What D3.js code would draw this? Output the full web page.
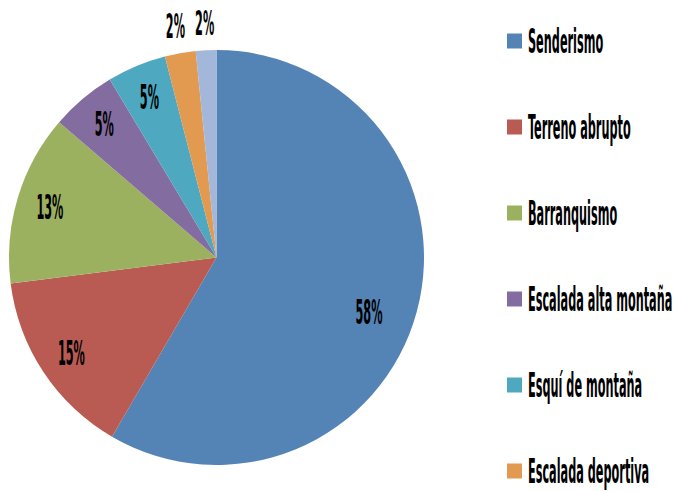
<!DOCTYPE html>
<html>
<head>
<meta charset="utf-8">
<script src="https://cdn.jsdelivr.net/npm/d3@7"></script>
<style>
  body { margin: 0; background: #fff; }
  svg { display: block; }
  text { font-family: "DejaVu Sans Condensed", "DejaVu Sans", sans-serif; font-weight: bold; fill: #000; }
</style>
</head>
<body>
<div id="chart"></div>
<script>
var categories = ["Senderismo", "Terreno abrupto", "Barranquismo", "Escalada alta montaña",
                  "Esquí de montaña", "Escalada deportiva", "Otros"];
var values = [58.4, 14.6, 13.3, 5.1, 4.6, 2.4, 1.6];
var colours = ["#5484B6", "#B95B53", "#9CB160", "#836C9F", "#4EA8C0", "#E29A50", "#A2B7DA"];

var width = 678,
  height = 491,
  cx = 216.5,
  cy = 257.5,
  radius = 207.5,
  squeeze = 0.38; // narrow glyphs, the original font is very condensed

var data = categories.map(function(c, i) {
  return { name: c, value: values[i], colour: colours[i] };
});

var svg = d3.select("#chart").append("svg")
  .attr("width", width)
  .attr("height", height);

var pie = d3.pie()
  .sort(null)
  .value(function(d) { return d.value; });

var arcs = pie(data);
var total = d3.sum(values);

var arc = d3.arc().innerRadius(0).outerRadius(radius);
var insideLabel = d3.arc().innerRadius(174).outerRadius(174);
var outsideLabel = d3.arc().innerRadius(235).outerRadius(235);

var g = svg.append("g")
  .attr("transform", "translate(" + cx + "," + cy + ")");

g.selectAll("path.slice")
  .data(arcs)
  .enter().append("path")
  .attr("class", "slice")
  .attr("d", arc)
  .style("fill", function(d) { return d.data.colour; });

g.selectAll("text.pct")
  .data(arcs)
  .enter().append("text")
  .attr("class", "pct")
  .attr("transform", function(d) {
    var share = d.data.value / total;
    var p;
    if (share < 0.03) {
      p = outsideLabel.centroid(d);
    } else if (share > 0.5) {
      var a = (d.startAngle + d.endAngle) / 2 + 0.08;
      p = [Math.sin(a) * 162, -Math.cos(a) * 162];
    } else {
      p = insideLabel.centroid(d);
    }
    return "translate(" + p[0] + "," + p[1] + ") scale(" + squeeze + ",1)";
  })
  .attr("dy", "0.36em")
  .style("font-size", "33px")
  .style("text-anchor", "middle")
  .text(function(d) { return Math.round(d.data.value) + "%"; });

var legendY = d3.scalePoint()
  .domain(categories)
  .range([41, 41 + 86 * (categories.length - 1)]);

// the last entry falls below the picture, as in the original
var legend = svg.selectAll("g.legend")
  .data(data.filter(function(d) { return legendY(d.name) < height; }))
  .enter().append("g")
  .attr("class", "legend")
  .attr("transform", function(d) { return "translate(507," + legendY(d.name) + ")"; });

legend.append("rect")
  .attr("x", 0)
  .attr("y", -7.5)
  .attr("width", 15)
  .attr("height", 15)
  .style("fill", function(d) { return d.colour; });

legend.append("text")
  .attr("transform", "translate(21,0) scale(" + squeeze + ",1)")
  .attr("dy", "0.36em")
  .style("font-size", "33px")
  .text(function(d) { return d.name; });
</script>
</body>
</html>
